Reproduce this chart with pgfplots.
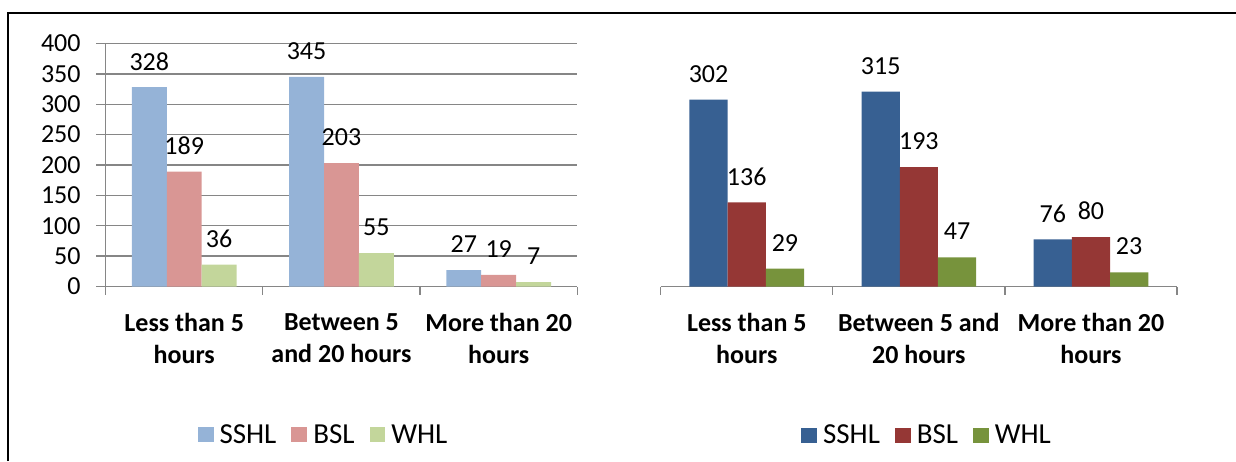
\documentclass[border=0pt]{standalone}
\usepackage{pgfplots}
\pgfplotsset{compat=1.18}
\usepackage{fontspec}
\setmainfont{Carlito}
\definecolor{gridgray}{RGB}{134,134,134}
\definecolor{lblue}{HTML}{95B3D7}
\definecolor{lred}{HTML}{D99694}
\definecolor{lgreen}{HTML}{C3D69B}
\definecolor{dblue}{RGB}{55,96,146}
\definecolor{dred}{RGB}{149,55,53}
\definecolor{dgreen}{RGB}{119,147,60}
\pgfplotsset{
  common/.style={
    /pgf/number format/assume math mode=true,
    scale only axis, anchor=south west,
    xmin=-0.5, xmax=2.5, ymin=0,
    ybar=0pt, bar width=0.222,
    axis x line*=bottom, axis y line*=left,
    axis line style={draw=gridgray, line width=1.3pt},
    ymajorgrids, grid style={draw=gridgray, line width=1.3pt},
    xtick={0,1,2},
    minor xtick={-0.5,0.5,1.5,2.5},
    tick align=outside, major tick length=9.5pt, minor tick length=8pt,
    tick style={draw=gridgray, line width=1.3pt},
    major x tick style={draw=none},
    xticklabel style={font=\bfseries\fontsize{26}{32.3}\selectfont, align=center, inner sep=0pt, anchor=north, yshift=-17pt},
    yticklabel style={font=\fontsize{26}{30}\selectfont, xshift=-12pt},
    nodes near coords,
    every node near coord/.append style={font=\fontsize{26}{30}\selectfont, anchor=center, yshift=26pt, text=black},
    legend columns=3,
    legend style={draw=none, fill=none, anchor=center, font=\fontsize{29}{32}\selectfont, inner sep=0pt,
      /tikz/every odd column/.append style={column sep=6pt},
      /tikz/every even column/.append style={column sep=15pt},
      nodes={inner sep=0pt, font=\fontsize{29}{32}\selectfont}},
    legend image code/.code={\draw[##1,/tikz/.cd,draw=none] (0pt,-7.5pt) rectangle (15.8pt,7.5pt);},
  }
}
\begin{document}
\begin{tikzpicture}[x=1pt,y=1pt]
\path[use as bounding box] (0pt,0pt) rectangle (1236pt,461pt);
\draw[line width=1.5pt] (8pt,0pt) -- (8pt,448pt) -- (1236pt,448pt);

\begin{axis}[common,
  at={(105.6pt,174.5pt)}, width=471.7pt, height=243pt,
  ymax=400, ytick={0,50,...,400},
  xticklabels={{Less than 5\\hours},{Between 5\\and 20 hours},{More than 20\\hours}},
  legend style={at={(0.46,-0.611)}},
]
\addplot[fill=lblue, draw=none] coordinates {(0,328) (1,345) (2,27)};
\addplot[fill=lred, draw=none] coordinates {(0,189) (1,203) (2,19)};
\addplot[fill=lgreen, draw=none] coordinates {(0,36) (1,55) (2,7)};
\legend{SSHL,BSL,WHL}
\end{axis}

\begin{axis}[common,
  at={(660.7pt,174.5pt)}, width=516.3pt, height=216.5pt,
  ymax=350, ytick={0,50,...,350}, yticklabels={},
  axis y line=none,
  xticklabels={{Less than 5\\hours},{Between 5 and\\20 hours},{More than 20\\hours}},
  legend style={at={(0.514,-0.686)}},
]
\addplot[fill=dblue, draw=none] coordinates {(0,302) (1,315) (2,76)};
\addplot[fill=dred, draw=none] coordinates {(0,136) (1,193) (2,80)};
\addplot[fill=dgreen, draw=none] coordinates {(0,29) (1,47) (2,23)};
\legend{SSHL,BSL,WHL}
\end{axis}
\end{tikzpicture}
\end{document}
